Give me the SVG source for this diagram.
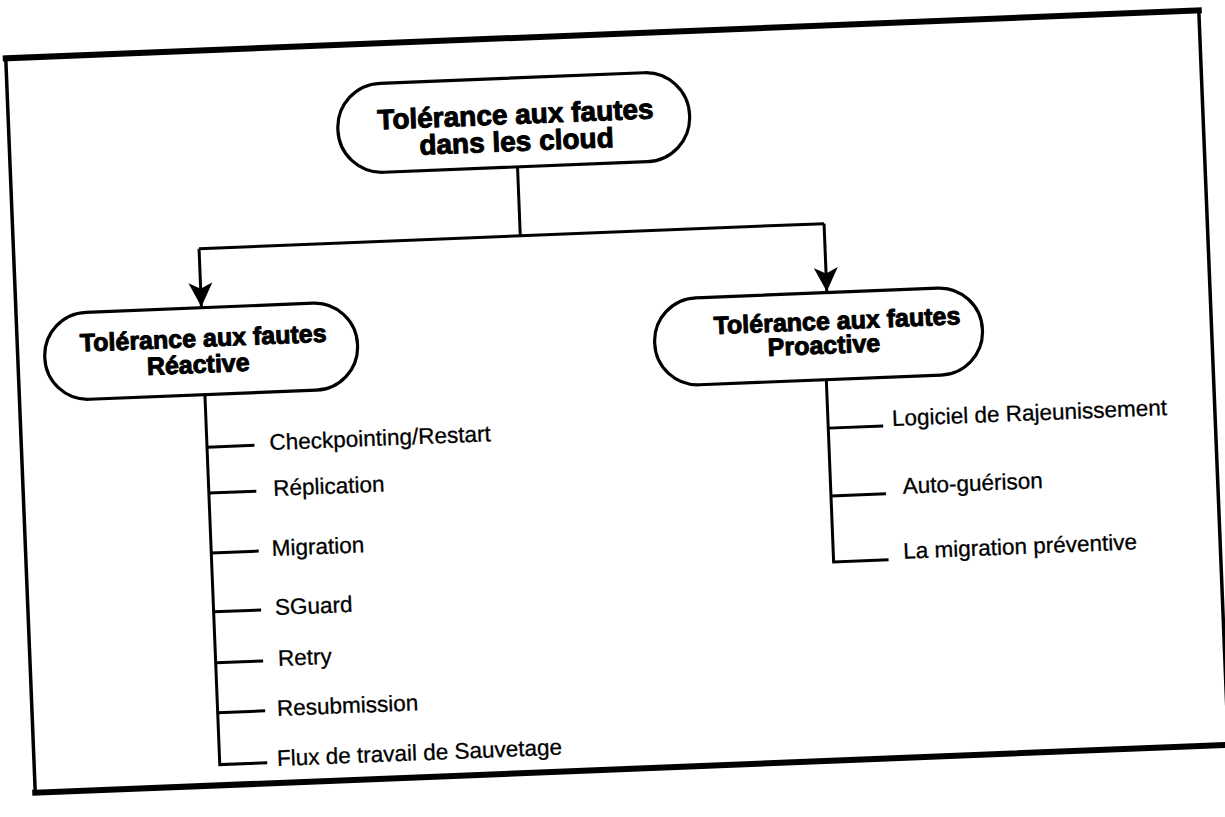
<svg xmlns="http://www.w3.org/2000/svg" width="1225" height="817" viewBox="0 0 1225 817">
  <style>
    .frame { fill: none; stroke: #000; stroke-width: 3.5; }
    .frame-thick { fill: none; stroke: #000; stroke-width: 6; stroke-linecap: square; }
    .pill { fill: #fff; stroke: #000; stroke-width: 3.2; }
    .head { font-family: "Liberation Sans", Arial, sans-serif; font-weight: bold; fill: #000; stroke: #000; stroke-width: 1; stroke-linejoin: round; text-anchor: middle; }
    .item { font-family: "Liberation Sans", Arial, sans-serif; font-size: 22.5px; fill: #000; stroke: #000; stroke-width: 0.3; }
    .wire { fill: none; stroke: #000; stroke-width: 3; }
  </style>
  <defs>
    <marker id="arrow" markerUnits="userSpaceOnUse" markerWidth="26" markerHeight="24" refX="24" refY="12" orient="auto" viewBox="0 0 26 24">
      <path d="M0,0 L24,12 L0,24 L6,12 z" fill="#000"/>
    </marker>
  </defs>
  <rect width="1225" height="817" fill="#fff"/>

  <g transform="rotate(-2.3 619 401)">
    <!-- outer border -->
    <g id="border">
      <rect class="frame" x="20" y="34" width="1194" height="735"/>
      <line class="frame-thick" x1="20" y1="34" x2="1214" y2="34"/>
      <line class="frame-thick" x1="20" y1="769" x2="1214" y2="769"/>
    </g>

    <!-- connectors -->
    <g id="connectors">
      <path class="wire" d="M527,163 V232"/>
      <path class="wire" d="M205.5,232 H831"/>
      <path class="wire" d="M205.5,232 V290" marker-end="url(#arrow)"/>
      <path class="wire" d="M831,232 V300" marker-end="url(#arrow)"/>
      <!-- reactive branch -->
      <path class="wire" d="M205.5,378 V748.3 H253"/>
      <path class="wire" d="M205.5,430.6 H253 M205.5,476.5 H253 M205.5,536.5 H253 M205.5,595.4 H253 M205.5,646.4 H253 M205.5,696.4 H253"/>
      <!-- proactive branch -->
      <path class="wire" d="M827,388 V570.4 H882"/>
      <path class="wire" d="M827,436.5 H882 M827,504.4 H882"/>
    </g>

    <g id="root">
      <rect class="pill" x="349" y="74" width="352" height="89" rx="44" ry="44"/>
      <text class="head" font-size="28" x="527" y="120">Tolérance aux fautes</text>
      <text class="head" font-size="28" x="527" y="147">dans les cloud</text>
    </g>

    <g id="reactive">
      <rect class="pill" x="47" y="291" width="313" height="87" rx="43" ry="43"/>
      <text class="head" font-size="25" x="206" y="330">Tolérance aux fautes</text>
      <text class="head" font-size="25" x="200" y="356">Réactive</text>
    </g>

    <g id="proactive">
      <rect class="pill" x="657" y="301" width="328" height="87" rx="43" ry="43"/>
      <text class="head" font-size="25" x="840" y="338">Tolérance aux fautes</text>
      <text class="head" font-size="25" x="826" y="362">Proactive</text>
    </g>

    <g id="reactive-items">
      <text class="item" x="268" y="436">Checkpointing/Restart</text>
      <text class="item" x="270" y="482">Réplication</text>
      <text class="item" x="266" y="542">Migration</text>
      <text class="item" x="267" y="601">SGuard</text>
      <text class="item" x="268" y="652">Retry</text>
      <text class="item" x="265" y="702">Resubmission</text>
      <text class="item" x="263" y="752">Flux de travail de Sauvetage</text>
    </g>

    <g id="proactive-items">
      <text class="item" x="891" y="437">Logiciel de Rajeunissement</text>
      <text class="item" x="899" y="505">Auto-guérison</text>
      <text class="item" x="897" y="570">La migration préventive</text>
    </g>
  </g>
</svg>
